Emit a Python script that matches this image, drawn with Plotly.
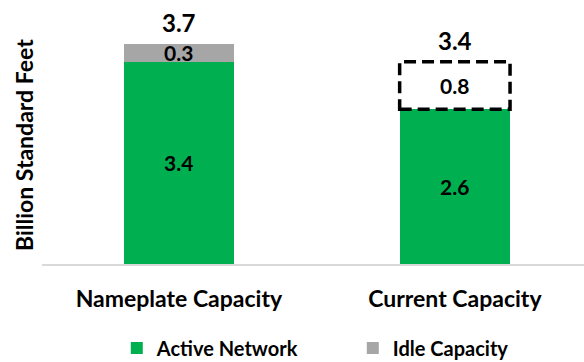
import plotly.graph_objects as go

# Storage capacity, billion standard feet
categories = ["Nameplate Capacity", "Current Capacity"]
active_network = [3.4, 2.6]
idle_capacity = [0.3, 0.8]
series_names = ["Active Network", "Idle Capacity"]
y_title = "Billion Standard Feet"

totals = [round(a + b, 1) for a, b in zip(active_network, idle_capacity)]

GREEN = "#00B050"
GREY = "#A6A6A6"
FONT = "Lato"
BAR_W = 0.4

fig = go.Figure()
fig.add_trace(go.Bar(
    x=categories, y=active_network, name=series_names[0],
    marker=dict(color=GREEN, line=dict(width=0)),
    width=BAR_W,
))
fig.add_trace(go.Bar(
    x=categories, y=idle_capacity, name=series_names[1],
    marker=dict(color=[GREY, "rgba(255,255,255,1)"], line=dict(width=0)),
    width=BAR_W,
))

# Segment value labels, centred in each stacked segment
seg_font = dict(family=FONT, size=21, color="black", weight="bold")
for cat, a, b in zip(categories, active_network, idle_capacity):
    fig.add_annotation(x=cat, y=a / 2, xref="x", yref="y", text=f"{a:.1f}",
                       showarrow=False, font=seg_font)
    fig.add_annotation(x=cat, y=a + b / 2, xref="x", yref="y", text=f"{b:.1f}",
                       showarrow=False, font=seg_font)

# Dashed outline around the idle portion of the current capacity bar
i = 1
fig.add_shape(
    type="rect", xref="x", yref="y",
    x0=i - BAR_W / 2, x1=i + BAR_W / 2,
    y0=active_network[i], y1=totals[i],
    line=dict(color="black", width=3.5, dash="12px,6px"),
    fillcolor="rgba(0,0,0,0)", layer="above",
)

# Totals above each stack
for cat, tot in zip(categories, totals):
    fig.add_annotation(
        x=cat, y=tot, xref="x", yref="y", text=f"{tot:.1f}",
        showarrow=False, yanchor="bottom", yshift=5,
        font=dict(family=FONT, size=24, color="black", weight="bold"),
    )

# Vertical axis title
fig.add_annotation(
    x=-0.033, y=0.488, xref="paper", yref="paper", text=y_title,
    textangle=-90, showarrow=False, xanchor="center", yanchor="middle",
    font=dict(family=FONT, size=23, color="black", weight="bold"),
)

fig.update_layout(
    width=584, height=362,
    margin=dict(l=42, r=0, t=20, b=98, autoexpand=False),
    barmode="stack",
    paper_bgcolor="white", plot_bgcolor="white",
    showlegend=True,
    legend=dict(
        orientation="h", x=0.138, y=0.039, xref="paper", yref="container",
        xanchor="left", yanchor="middle",
        font=dict(family=FONT, size=20, color="black", weight="bold"),
        entrywidth=191, entrywidthmode="pixels",
        itemclick=False, itemdoubleclick=False,
        traceorder="normal",
    ),
    xaxis=dict(
        range=[-0.496, 1.468], showline=True, linecolor="#D9D9D9", linewidth=1.5,
        ticks="", ticklabelstandoff=14, showgrid=False, automargin=False,
        tickfont=dict(family=FONT, size=23, color="black", weight="bold"),
    ),
    yaxis=dict(
        range=[0, 4.1], showticklabels=False, showgrid=False, automargin=False,
        zeroline=False, showline=False, ticks="",
    ),
)

fig.write_html("out.html")
